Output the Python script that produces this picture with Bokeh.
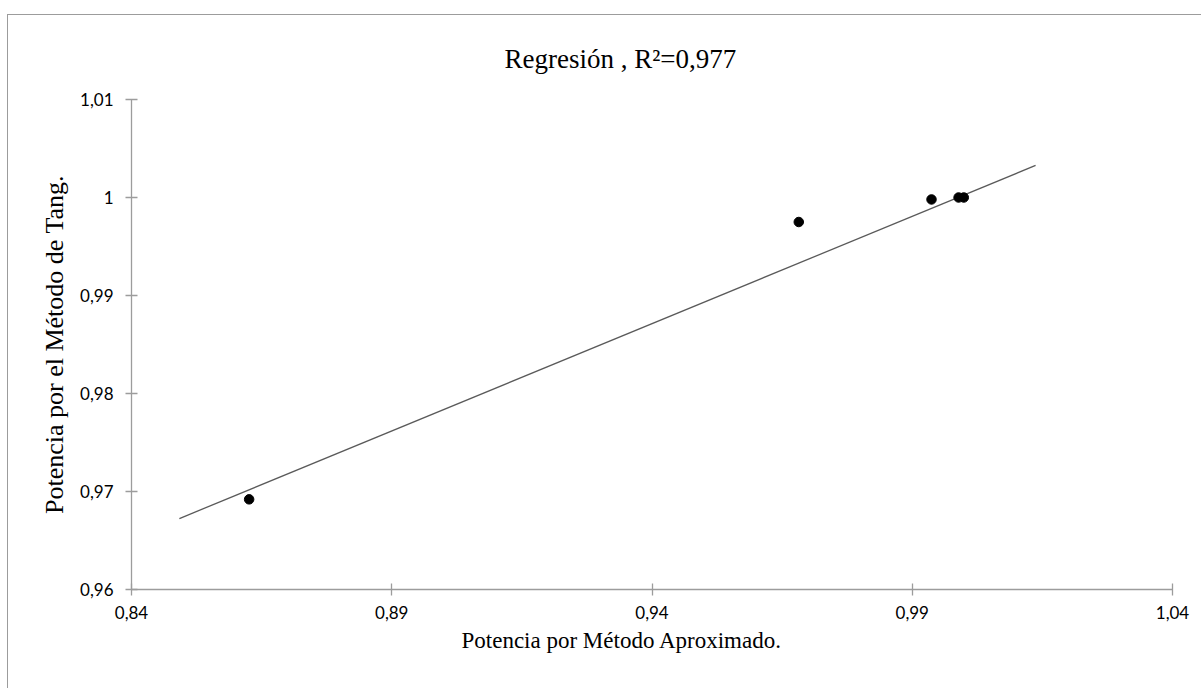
from bokeh.plotting import figure
from bokeh.models import Range1d, FixedTicker, Title
from bokeh.embed import file_html
from bokeh.resources import INLINE

# Potencia por método aproximado vs. método de Tang
aprox = [0.8626, 0.9682, 0.9937, 0.9989, 0.9999]
tang = [0.9692, 0.9975, 0.9998, 1.0000, 1.0000]

# Línea de tendencia (regresión lineal, extendida hacia ambos lados)
trend_x = [0.8492, 1.0137]
trend_y = [0.96724, 1.00327]

x_ticks = [0.84, 0.89, 0.94, 0.99, 1.04]
x_tick_labels = ["0,84", "0,89", "0,94", "0,99", "1,04"]
y_ticks = [0.96, 0.97, 0.98, 0.99, 1.00, 1.01]
y_tick_labels = ["0,96", "0,97", "0,98", "0,99", "1", "1,01"]

X_TITLE = "Potencia por Método Aproximado."
Y_TITLE = "Potencia por el Método de Tang."

AXIS_GREY = "#9c9c9c"
SERIF = "Liberation Serif"
SANS = "Lato"

p = figure(
    width=1194, height=674,
    x_range=Range1d(0.84, 1.04), y_range=Range1d(0.96, 1.01),
    output_backend="svg", toolbar_location=None,
    title="Regresión , R²=0,977",
    min_border_left=123, min_border_right=30,
    min_border_top=84, min_border_bottom=100,
    margin=(14, 0, 0, 7),
    styles={"border-left": f"1px solid {AXIS_GREY}",
            "border-top": f"1px solid {AXIS_GREY}"},
)
p.outline_line_color = None
p.background_fill_color = "white"
p.border_fill_color = "white"
p.grid.visible = False

p.title.text_font = SERIF
p.title.text_font_size = "27px"
p.title.text_font_style = "normal"
p.title.text_color = "black"
p.title.align = "left"
p.title.offset = 373
p.title.standoff = 51

for ax in (p.xaxis[0], p.yaxis[0]):
    ax.axis_line_color = AXIS_GREY
    ax.axis_line_width = 1.3
    ax.major_tick_line_color = AXIS_GREY
    ax.major_tick_line_width = 1.3
    ax.major_tick_in = 6
    ax.major_tick_out = 6
    ax.minor_tick_line_color = None
    ax.major_label_text_font = SANS
    ax.major_label_text_font_size = "17px"
    ax.major_label_text_color = "black"
    ax.axis_label_text_font = SERIF
    ax.axis_label_text_font_style = "normal"
    ax.axis_label_text_color = "black"

p.xaxis.ticker = FixedTicker(ticks=x_ticks)
p.xaxis.major_label_overrides = dict(zip(x_ticks, x_tick_labels))
p.xaxis.major_label_standoff = 10

p.yaxis.ticker = FixedTicker(ticks=y_ticks)
p.yaxis.major_label_overrides = dict(zip(y_ticks, y_tick_labels))
p.yaxis.major_label_standoff = 12
p.yaxis.axis_label = Y_TITLE
p.yaxis.axis_label_text_font_size = "26px"
p.yaxis.axis_label_standoff = 8

# horizontal axis title, placed below the tick labels and a little left of centre
p.add_layout(Title(
    text=X_TITLE, align="left", offset=330, standoff=8,
    text_font=SERIF, text_font_size="23px", text_font_style="normal",
    text_color="black",
), "below")

p.line(trend_x, trend_y, line_color="#5a5a5a", line_width=1.3)
p.scatter(aprox, tang, size=9.5, fill_color="black", line_color="black")

open("out.html", "w").write(file_html(p, INLINE))
